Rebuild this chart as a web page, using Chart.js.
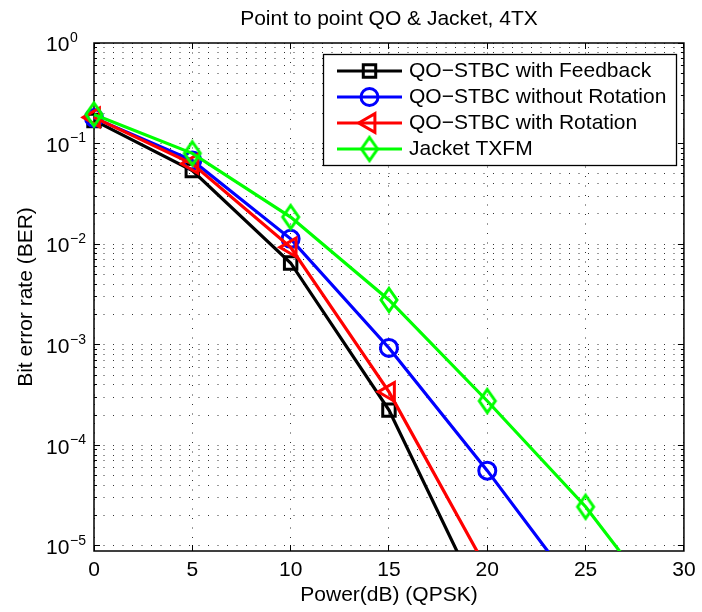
<!DOCTYPE html>
<html><head><meta charset="utf-8">
<script src="https://cdn.jsdelivr.net/npm/chart.js@4.4.0/dist/chart.umd.min.js"></script>
<style>html,body{margin:0;padding:0;background:#fff;}#wrap{width:702px;height:612px;}</style>
</head><body><div id="wrap"><canvas id="c" width="702" height="612"></canvas></div>
<script>
// ---- data ----
const powerDb = [0, 5, 10, 15, 20, 25, 30];
const seriesLabels = ['QO\u2212STBC with Feedback', 'QO\u2212STBC without Rotation', 'QO\u2212STBC with Rotation', 'Jacket TXFM'];
const berFeedback   = [0.170, 0.054, 0.0065, 0.000224, 2.1e-6, null, null];
const berNoRotation = [0.180, 0.068, 0.0113, 0.00093, 5.6e-5, 2.8e-6, null];
const berRotation   = [0.182, 0.063, 0.0093, 0.00034, 5.8e-6, null, null];
const berJacket     = [0.195, 0.080, 0.0186, 0.00279, 0.000276, 2.45e-5, 1.3e-6];
const xTickValues = [0, 5, 10, 15, 20, 25, 30];
const yDecades = [-5, -4, -3, -2, -1, 0];
const yTickBase = '10';
const yTickExponents = ['\u22125', '\u22124', '\u22123', '\u22122', '\u22121', '0'];
const titleText = 'Point to point QO & Jacket, 4TX';
const xTitleText = 'Power(dB) (QPSK)';
const yTitleText = 'Bit error rate (BER)';

const FONT = "'Liberation Sans', Arial, Helvetica, sans-serif";
const YMIN = 8.9e-6, YMAX = 1;
const colors = ['#000000', '#0000ff', '#ff0000', '#00ff00'];

function diamondCanvas(color) {
  const c = document.createElement('canvas');
  c.width = 30; c.height = 34;
  const g = c.getContext('2d');
  g.strokeStyle = color; g.lineWidth = 3; g.lineJoin = 'miter';
  const cx = 15, cy = 17, hw = 8, hh = 11.5;
  g.beginPath();
  g.moveTo(cx, cy - hh); g.lineTo(cx + hw, cy); g.lineTo(cx, cy + hh); g.lineTo(cx - hw, cy); g.closePath();
  g.stroke();
  return c;
}
const markerStyles = [
  {pointStyle: 'rect', radius: 8.8, rotation: 0},
  {pointStyle: 'circle', radius: 8.5, rotation: 0},
  {pointStyle: 'triangle', radius: 10.8, rotation: -90},
  {pointStyle: diamondCanvas(colors[3]), radius: 9, rotation: 0}
];
const seriesValues = [berFeedback, berNoRotation, berRotation, berJacket];
const drawOrder = [3, 2, 1, 0];

const datasets = seriesValues.map((vals, i) => ({
  label: seriesLabels[i],
  data: powerDb.map((x, j) => ({x: x, y: vals[j]})).filter(p => p.y !== null),
  borderColor: colors[i],
  backgroundColor: 'rgba(0,0,0,0)',
  pointBackgroundColor: 'rgba(0,0,0,0)',
  pointBorderColor: colors[i],
  borderWidth: 3.2,
  pointBorderWidth: 3,
  pointStyle: markerStyles[i].pointStyle,
  pointRadius: markerStyles[i].radius,
  pointRotation: markerStyles[i].rotation,
  tension: 0,
  order: drawOrder[i],
  clip: {left: false, top: false, right: false, bottom: 0}
}));

const matlabPlugin = {
  id: 'matlabAxes',
  beforeDatasetsDraw(chart) {
    const {ctx, chartArea: a, scales: {x, y}} = chart;
    ctx.save();
    ctx.strokeStyle = '#000';
    ctx.lineWidth = 1;
    ctx.beginPath();
    x.ticks.forEach(t => {
      const px = Math.round(x.getPixelForValue(t.value) - 0.5) + 0.5;
      ctx.moveTo(px, a.bottom); ctx.lineTo(px, a.bottom - 6);
      ctx.moveTo(px, a.top); ctx.lineTo(px, a.top + 6);
    });
    y.ticks.forEach(t => {
      const py = Math.round(y.getPixelForValue(t.value) - 0.5) + 0.5;
      const m = t.value / Math.pow(10, Math.floor(Math.log10(t.value) + 1e-9));
      const len = Math.abs(m - 1) < 1e-6 ? 6 : 3;
      ctx.moveTo(a.left, py); ctx.lineTo(a.left + len, py);
      ctx.moveTo(a.right, py); ctx.lineTo(a.right - len, py);
    });
    ctx.stroke();
    ctx.lineWidth = 1.5;
    ctx.strokeRect(a.left, a.top, a.right - a.left, a.bottom - a.top);
    ctx.restore();
  },
  afterDraw(chart) {
    const {ctx, scales: {y}} = chart;
    ctx.save();
    ctx.fillStyle = '#000';
    ctx.textAlign = 'left';
    ctx.textBaseline = 'middle';
    yDecades.forEach((k, i) => {
      const py = y.getPixelForValue(Math.pow(10, k));
      ctx.font = '21px ' + FONT;
      ctx.fillText(yTickBase, 46, py + 2.5);
      ctx.font = '14px ' + FONT;
      ctx.fillText(yTickExponents[i], 70, py - 5);
    });
    // legend
    const bx = 323, by = 54, bw = 353, bh = 111;
    ctx.fillStyle = '#fff';
    ctx.fillRect(bx, by, bw, bh);
    ctx.strokeStyle = '#000';
    ctx.lineWidth = 1.3;
    ctx.strokeRect(bx + 0.5, by + 0.5, bw, bh);
    chart.data.datasets.forEach((ds, i) => {
      const ry = 71 + 26 * i;
      ctx.strokeStyle = colors[i];
      ctx.lineWidth = 3.2;
      ctx.beginPath(); ctx.moveTo(337, ry); ctx.lineTo(402, ry); ctx.stroke();
      ctx.fillStyle = 'rgba(0,0,0,0)';
      ctx.lineWidth = 3;
      Chart.helpers.drawPoint(ctx, {pointStyle: markerStyles[i].pointStyle, radius: markerStyles[i].radius, rotation: markerStyles[i].rotation, borderWidth: 3}, 369.5, ry);
      ctx.fillStyle = '#000';
      ctx.font = '21px ' + FONT;
      ctx.textBaseline = 'middle';
      ctx.fillText(ds.label, 409, ry);
    });
    ctx.restore();
  }
};

const gridCommon = {color: 'rgba(0,0,0,0.8)', lineWidth: 1, drawTicks: false};
const borderCommon = {display: false, dash: [1, 8.5]};

new Chart(document.getElementById('c'), {
  type: 'line',
  data: {datasets: datasets},
  options: {
    responsive: false,
    animation: false,
    devicePixelRatio: 1,
    layout: {padding: {left: 0, right: 16, top: 0, bottom: 0}},
    plugins: {
      legend: {display: false},
      tooltip: {enabled: false},
      title: {
        display: true, text: titleText, color: '#000', fullSize: false,
        font: {family: FONT, size: 21, weight: 'normal'},
        padding: {top: 6.9, bottom: 10.9}
      }
    },
    scales: {
      x: {
        type: 'linear', min: 0, max: 30,
        afterBuildTicks: s => { s.ticks = xTickValues.map(v => ({value: v})); },
        afterFit: s => { s.height = 61; },
        ticks: {color: '#000', font: {family: FONT, size: 21}, padding: 6.4, maxRotation: 0, callback: v => String(v)},
        grid: gridCommon,
        border: borderCommon,
        title: {display: true, text: xTitleText, color: '#000', font: {family: FONT, size: 21}, padding: {top: 0, bottom: 4.4}}
      },
      y: {
        type: 'logarithmic', min: YMIN, max: YMAX,
        afterBuildTicks: s => {
          const t = [];
          yDecades.forEach(k => {
            const n = k === 0 ? 1 : 9;
            for (let m = 1; m <= n; m++) {
              const v = m * Math.pow(10, k);
              if (v >= YMIN && v <= YMAX) t.push({value: v});
            }
          });
          s.ticks = t;
        },
        afterFit: s => { s.width = 94; },
        ticks: {display: false},
        grid: gridCommon,
        border: borderCommon,
        title: {display: true, text: yTitleText, color: '#000', font: {family: FONT, size: 21}, padding: {top: 14, bottom: 0}}
      }
    }
  },
  plugins: [matlabPlugin]
});
</script>
</body></html>
